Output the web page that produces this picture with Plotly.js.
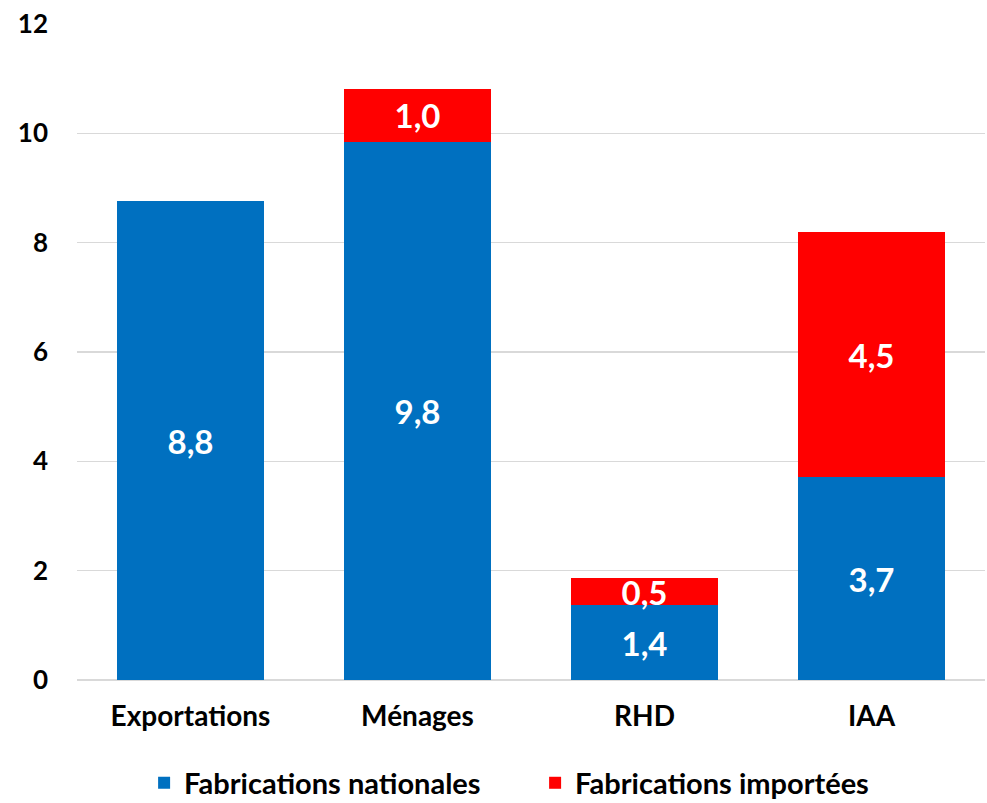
<!DOCTYPE html>
<html><head><meta charset="utf-8">
<script src="https://cdn.plot.ly/plotly-3.0.1.min.js"></script>
<style>body{margin:0;background:#fff}#c{width:987px;height:803px}</style>
</head><body><div id="c"></div>
<script>
const categories = ['Exportations', 'Ménages', 'RHD', 'IAA'];
const nationales = [8.76, 9.84, 1.37, 3.71];
const importees = [null, 0.98, 0.49, 4.48];
const seriesNames = ['Fabrications nationales', 'Fabrications importées'];
const FONT = 'Lato, "Open Sans", sans-serif';
const labelFont = {family: FONT, size: 33, color: '#ffffff', weight: 'bold'};
const traces = [
  {type: 'bar', name: seriesNames[0], x: categories, y: nationales,
   marker: {color: '#0070c0'}, texttemplate: '%{y:.1f}', textposition: 'inside',
   insidetextanchor: 'middle', constraintext: 'none', textfont: labelFont, hoverinfo: 'none'},
  {type: 'bar', name: seriesNames[1], x: categories, y: importees,
   marker: {color: '#ff0000'}, texttemplate: '%{y:.1f}', textposition: 'inside',
   insidetextanchor: 'middle', constraintext: 'none', textfont: labelFont, hoverinfo: 'none'}
];
const layout = {
  width: 987, height: 803, barmode: 'stack', bargap: 0.35,
  separators: ', ',
  margin: {l: 77, r: 2, t: 24, b: 123, autoexpand: false},
  paper_bgcolor: '#fff', plot_bgcolor: '#fff',
  font: {family: FONT, color: '#000'},
  xaxis: {tickfont: {family: FONT, size: 28, color: '#000', weight: 'bold'}, showline: false, ticks: '', ticklabelstandoff: 17},
  yaxis: {range: [0, 12], dtick: 2, tickfont: {family: FONT, size: 26, color: '#000', weight: 'bold'},
          gridcolor: '#d9d9d9', gridwidth: 1.5, zeroline: true, zerolinecolor: '#d9d9d9', zerolinewidth: 1.5,
          showline: false, ticks: '', ticklabelstandoff: 28},
  showlegend: true,
  legend: {orientation: 'h', x: 0.146, xanchor: 'left', xref: 'container', y: 0.025, yanchor: 'middle', yref: 'container',
           font: {family: FONT, size: 29, color: '#000', weight: 'bold'}, traceorder: 'normal', itemwidth: 30,
           entrywidth: 346},
};
Plotly.newPlot('c', traces, layout, {displayModeBar: false, staticPlot: true});
</script></body></html>
